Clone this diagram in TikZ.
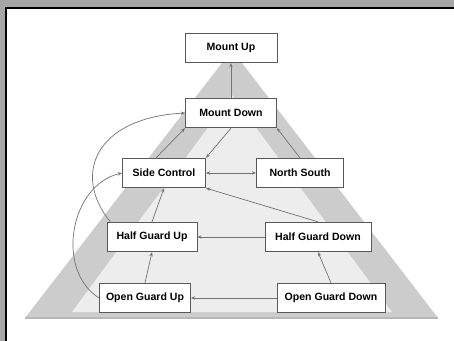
\documentclass[tikz,border=0pt]{standalone}
\usepackage{fontspec}
\setmainfont{Liberation Sans}
\usetikzlibrary{arrows.meta}

\tikzset{
  posbox/.style={draw=black!65, fill=white, line width=0.5pt, minimum height=0.74cm,
    inner sep=2pt, font=\fontsize{7.5}{9}\selectfont\bfseries},
  link/.style={draw=black!55, line width=0.5pt, -{Stealth[length=3pt,width=2.4pt]}},
  biglink/.style={link, {Stealth[length=3pt,width=2.4pt]}-{Stealth[length=3pt,width=2.4pt]}}
}

\begin{document}
\begin{tikzpicture}[x=0.025cm, y=-0.025cm]
  % frame and background
  \useasboundingbox (0,0) rectangle (454,341);
  \fill[black!35] (0,0) rectangle (454,341);
  \draw[fill=white, line width=0.8pt] (6,8) rectangle (455,342);

  % pyramid
  \fill[black!20] (232,50) -- (438,318) -- (25,318) -- cycle;
  \fill[black!7] (232,95) -- (392,312) -- (72,312) -- cycle;
  \draw[black!28, line width=1pt] (25,318) -- (438,318);

  % positions
  \node[posbox, minimum width=2.3cm]  (mu)  at (231,48)  {Mount Up};
  \node[posbox, minimum width=2.28cm] (md)  at (231,113) {Mount Down};
  \node[posbox, minimum width=2.08cm] (sc)  at (164,173) {Side Control};
  \node[posbox, minimum width=2.18cm] (ns)  at (300,173) {North South};
  \node[posbox, minimum width=2.25cm] (hgu) at (152,237) {Half Guard Up};
  \node[posbox, minimum width=2.65cm] (hgd) at (318,237) {Half Guard Down};
  \node[posbox, minimum width=2.28cm] (ogu) at (145,298) {Open Guard Up};
  \node[posbox, minimum width=2.7cm]  (ogd) at (331,298) {Open Guard Down};

  % transitions
  \draw[link] (md) -- (mu);
  \draw[link] (sc.north) ++(-8,0) coordinate (scn) (scn) -- (md.south west);
  \draw[link] (md.south) -- (sc.north east);
  \draw[link] (ns.north) -- (md.south east);
  \draw[biglink] (sc) -- (ns);
  \draw[link] (hgu.north) -- (sc.south);
  \draw[link] (hgd.north) -- (sc.south east);
  \draw[link] (hgd) -- (hgu);
  \draw[link] (ogu.north) -- (hgu.south);
  \draw[link] (ogd.north) -- (hgd.south);
  \draw[link] (ogd) -- (ogu);

  % long escapes
  \draw[link] (hgu.160) .. controls (72,175) and (95,118) .. (md.west);
  \draw[link] (ogu.west) .. controls (55,270) and (70,185) .. (sc.west);
\end{tikzpicture}
\end{document}
